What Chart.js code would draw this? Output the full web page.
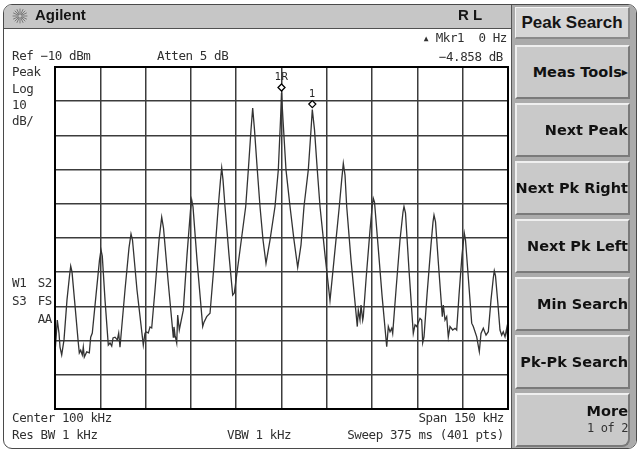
<!DOCTYPE html>
<html>
<head>
<meta charset="utf-8">
<script src="https://cdn.jsdelivr.net/npm/chart.js@4.4.1/dist/chart.umd.min.js"></script>
<style>
  body { margin: 0; background: #fff; }
  #screen { position: relative; width: 641px; height: 453px; overflow: hidden; background: #fff; }
  #frame { position: absolute; left: 3px; top: 4px; width: 634px; height: 445px; box-sizing: border-box;
           border: 1px solid #4a4a4a; border-radius: 9px; overflow: hidden; background: #fff; }
  #titlebar { position: absolute; left: 0; top: 0; width: 507px; height: 24px; box-sizing: border-box;
              background: #c6c6c6; border-bottom: 1px solid #505050; }
  #keys { position: absolute; left: 507px; top: 0; width: 126px; height: 445px; box-sizing: border-box;
          background: #ababab; border-left: 1px solid #555; }
  #chart { position: absolute; left: 0; top: 0; z-index: 1; }
  .t { position: absolute; z-index: 2; font: 12.5px 'DejaVu Sans Mono', monospace; letter-spacing: -0.4px;
       color: #303030; line-height: 14px; white-space: pre; }
  .key { position: absolute; left: 515px; width: 115px; height: 54px; box-sizing: border-box; z-index: 2;
         background: #c9c9c9; border-top: 2px solid #efefef; border-left: 2px solid #efefef;
         border-right: 2px solid #7a7a7a; border-bottom: 2px solid #7a7a7a; }
  .key span.lbl { position: absolute; right: 0; font: bold 14.5px 'DejaVu Sans', sans-serif; color: #111;
                  line-height: 16px; white-space: nowrap; }
  #menuTitle { position: absolute; left: 515px; top: 7px; width: 115px; height: 32px; box-sizing: border-box; z-index: 2;
               background: #d6d6d6; border-top: 1px solid #f4f4f4; border-left: 1px solid #f4f4f4;
               border-right: 2px solid #8a8a8a; border-bottom: 2px solid #8a8a8a;
               font: bold 17px 'Liberation Sans', sans-serif; color: #151515; text-align: center; line-height: 29px; }
  .brand { position: absolute; z-index: 2; font: bold 15px 'Liberation Sans', sans-serif; color: #151515; line-height: 16px; }
</style>
</head>
<body>
<div id="screen">
  <div id="frame">
    <div id="titlebar"></div>
    <div id="keys"></div>
  </div>

  <svg style="position:absolute;left:12px;top:8px;z-index:2" width="16" height="16" viewBox="0 0 16 16">
    <g stroke="#7a7a7a" stroke-width="1" stroke-linecap="round">
      <line x1="8" y1="1" x2="8" y2="15"/><line x1="1" y1="8" x2="15" y2="8"/>
      <line x1="3" y1="3" x2="13" y2="13"/><line x1="13" y1="3" x2="3" y2="13"/>
      <line x1="5" y1="1.5" x2="11" y2="14.5"/><line x1="11" y1="1.5" x2="5" y2="14.5"/>
      <line x1="1.5" y1="5" x2="14.5" y2="11"/><line x1="1.5" y1="11" x2="14.5" y2="5"/>
    </g>
    <circle cx="8" cy="8" r="1.6" fill="#c6c6c6"/>
  </svg>
  <div class="brand" style="left:35px;top:7px">Agilent</div>
  <div class="brand" style="left:458px;top:7px">R L</div>

  <canvas id="chart" width="641" height="453"></canvas>

  <div class="t" style="left:12px;top:49px">Ref −10 dBm</div>
  <div class="t" style="left:157px;top:49px">Atten 5 dB</div>
  <div class="t" id="mkrFreq" style="right:134px;top:31px"></div>
  <div class="t" id="mkrDelta" style="right:138px;top:50px"></div>

  <div class="t" style="left:12px;top:65px">Peak</div>
  <div class="t" style="left:12px;top:82px">Log</div>
  <div class="t" style="left:12px;top:98px">10</div>
  <div class="t" style="left:12px;top:114px">dB/</div>

  <div class="t" style="left:12px;top:276px">W1</div>
  <div class="t" style="right:589px;top:276px">S2</div>
  <div class="t" style="left:12px;top:294px">S3</div>
  <div class="t" style="right:589px;top:294px">FS</div>
  <div class="t" style="right:589px;top:312px">AA</div>

  <div class="t" style="left:12px;top:411px">Center 100 kHz</div>
  <div class="t" style="right:137px;top:411px">Span 150 kHz</div>
  <div class="t" style="left:12px;top:428px">Res BW 1 kHz</div>
  <div class="t" style="left:227px;top:428px">VBW 1 kHz</div>
  <div class="t" style="right:137px;top:428px">Sweep 375 ms (401 pts)</div>

  <div id="menuTitle">Peak Search</div>
  <div id="softkeys"></div>
</div>

<script>
// Trace: frequency (kHz) and level (dBm) pairs
const traceFreq = [
  25.00, 25.76, 26.32, 26.66, 27.22, 27.98, 28.97, 29.80, 30.20, 30.63, 31.46, 32.72, 33.05, 33.51, 34.04, 34.37,
  34.70, 35.50, 36.36, 36.82, 37.35, 38.58, 39.74, 40.23, 40.66, 41.56, 42.65, 43.21, 43.78, 44.21, 44.87, 45.63,
  46.09, 46.52, 47.02, 48.18, 49.50, 50.17, 50.66, 52.15, 54.24, 54.80, 55.36, 55.89, 56.46, 57.02, 58.11, 59.44,
  60.33, 60.93, 62.42, 64.17, 64.40, 64.74, 65.30, 65.63, 66.16, 67.48, 68.71, 69.87, 70.27, 70.70, 72.02, 73.91,
  74.34, 75.23, 76.33, 77.65, 78.97, 79.80, 80.20, 80.63, 81.29, 82.62, 83.84, 84.37, 86.26, 88.15, 89.01, 89.90,
  90.46, 91.06, 91.99, 92.88, 93.88, 94.87, 96.19, 97.85, 98.94, 99.67, 100.00, 100.50, 101.49, 102.82, 104.14, 105.36,
  106.46, 107.45, 108.87, 109.77, 110.20, 110.93, 111.85, 112.75, 114.41, 116.06, 117.39, 119.14, 119.93, 120.47, 121.03, 121.59,
  123.01, 125.10, 125.43, 125.99, 126.33, 126.89, 127.09, 127.98, 129.31, 130.07, 130.40, 130.80, 131.95, 133.28, 134.84, 135.37,
  135.93, 136.49, 136.82, 137.92, 139.24, 140.23, 140.56, 141.06, 142.22, 143.64, 144.21, 144.77, 145.86, 146.42, 146.76, 147.19,
  148.18, 149.50, 150.17, 150.50, 151.00, 151.99, 153.25, 153.58, 154.14, 154.70, 155.23, 155.80, 156.69, 157.45, 158.01, 158.78,
  159.77, 160.53, 160.93, 161.92, 162.98, 163.51, 164.64, 165.50, 166.06, 166.82, 167.72, 168.48, 169.37, 170.13, 170.46, 170.86,
  171.69, 172.35, 172.91, 173.44, 174.01, 174.57, 174.90, 175.00
];
const traceLevel = [
  -93.6, -84.0, -87.8, -91.9, -94.2, -89.8, -78.1, -71.1, -68.2, -69.9, -78.1, -90.7, -93.6, -92.8, -94.2, -91.9,
  -94.8, -93.3, -93.6, -89.0, -87.8, -76.7, -66.4, -63.5, -65.3, -78.1, -91.3, -90.7, -91.6, -89.2, -89.0, -89.8,
  -87.8, -91.9, -86.9, -75.2, -62.9, -58.8, -60.6, -75.2, -91.3, -87.8, -87.5, -87.8, -86.0, -86.3, -75.2, -60.6,
  -53.9, -57.1, -72.3, -89.0, -86.0, -88.4, -90.7, -82.5, -86.9, -81.1, -65.0, -51.8, -48.9, -50.9, -66.4, -85.9,
  -84.6, -83.0, -82.0, -67.9, -51.8, -43.0, -39.5, -43.0, -50.8, -65.0, -76.7, -76.1, -63.5, -50.8, -40.1, -28.4,
  -22.0, -28.4, -40.1, -50.8, -60.6, -67.4, -60.6, -50.8, -40.1, -25.5, -17.6, -25.5, -40.1, -50.8, -60.6, -68.6,
  -62.0, -50.8, -40.1, -28.4, -22.46, -28.4, -40.1, -50.8, -65.0, -78.3, -66.4, -50.8, -43.0, -38.2, -41.6, -50.8,
  -66.4, -85.9, -81.1, -84.0, -79.6, -84.0, -83.0, -72.3, -57.7, -50.4, -48.4, -49.5, -62.0, -76.7, -91.8, -85.9,
  -87.4, -86.4, -87.9, -75.2, -60.6, -52.4, -50.8, -52.7, -69.4, -87.9, -85.4, -85.9, -83.5, -84.0, -90.6, -88.9,
  -76.7, -62.0, -55.3, -53.3, -55.3, -67.9, -83.0, -79.6, -84.0, -83.0, -88.9, -85.9, -86.9, -86.4, -86.9, -76.7,
  -65.0, -58.6, -60.6, -72.3, -84.9, -85.9, -88.9, -93.2, -87.9, -86.4, -88.4, -87.4, -78.1, -71.7, -69.6, -71.1,
  -79.6, -86.9, -88.4, -87.4, -88.9, -86.4, -89.3, -85.9
];

// Display settings
const refLevel = -10;       // dBm, top graticule line
const dbPerDiv = 10;
const centerKHz = 100;
const spanKHz = 150;

// Delta marker pair: reference at the main peak, marker 1 on the next one up
const markerLabels = ['1R', '1'];
const markerFreq = [100.0, 110.2];
const refMarkerLevel = -17.6;
const deltaMarkerDb = -4.858;
const markerLevel = [refMarkerLevel, refMarkerLevel + deltaMarkerDb];

const softkeys = ['Meas Tools', 'Next Peak', 'Next Pk Right', 'Next Pk Left', 'Min Search', 'Pk-Pk Search', 'More'];

// marker readout
document.getElementById('mkrFreq').innerHTML =
  '<span style="font-size:8px;letter-spacing:0;position:relative;top:-1px">&#9650;</span> Mkr1  0 Hz';
document.getElementById('mkrDelta').textContent = '\u2212' + Math.abs(deltaMarkerDb).toFixed(3) + ' dB';

// softkey column
const keyBox = document.getElementById('softkeys');
softkeys.forEach(function(name, i) {
  const key = document.createElement('div');
  key.className = 'key';
  key.style.top = (45 + i * 58) + 'px';
  if (name === 'More') {
    key.style.borderBottomRightRadius = '8px';
    key.innerHTML = '<span class="lbl" style="top:8px">More</span>' +
      '<span class="lbl" style="top:26px;font:12px \'DejaVu Sans Mono\',monospace;letter-spacing:-0.4px;color:#333">1 of 2</span>';
  } else {
    let text = name;
    if (name === 'Meas Tools') text += '<span style="font-size:8px;position:relative;top:-2px">&#9654;</span>';
    key.innerHTML = '<span class="lbl" style="top:17px">' + text + '</span>';
  }
  keyBox.appendChild(key);
});

const tracePoints = traceFreq.map(function(f, i) { return { x: f, y: traceLevel[i] }; });

// heavy outline round the graticule
const graticuleFrame = {
  id: 'graticuleFrame',
  afterDraw: function(chart) {
    const a = chart.chartArea;
    const ctx = chart.ctx;
    ctx.save();
    ctx.strokeStyle = '#000';
    ctx.lineWidth = 2;
    ctx.strokeRect(a.left, a.top, a.right - a.left, a.bottom - a.top);
    ctx.restore();
  }
};

// diamond markers sitting just above the trace, with their labels
const markerPlugin = {
  id: 'markers',
  afterDatasetsDraw: function(chart) {
    const ctx = chart.ctx;
    const xs = chart.scales.x, ys = chart.scales.y;
    ctx.save();
    markerFreq.forEach(function(f, i) {
      const px = xs.getPixelForValue(f);
      const py = ys.getPixelForValue(markerLevel[i]) - 5.5;
      ctx.beginPath();
      ctx.moveTo(px, py - 3.5);
      ctx.lineTo(px + 3.5, py);
      ctx.lineTo(px, py + 3.5);
      ctx.lineTo(px - 3.5, py);
      ctx.closePath();
      ctx.fillStyle = '#fff';
      ctx.fill();
      ctx.strokeStyle = '#000';
      ctx.lineWidth = 1.3;
      ctx.stroke();
      ctx.fillStyle = '#222';
      ctx.font = '10px "DejaVu Sans"';
      ctx.textAlign = 'center';
      ctx.textBaseline = 'alphabetic';
      ctx.fillText(markerLabels[i], px, py - 7);
    });
    ctx.restore();
  }
};

const gridStyle = { color: '#3c3c3c', lineWidth: 1.5, drawTicks: false };

new Chart(document.getElementById('chart').getContext('2d'), {
  type: 'line',
  data: {
    datasets: [{
      data: tracePoints,
      borderColor: '#333',
      borderWidth: 1.3,
      pointRadius: 0,
      tension: 0,
      fill: false
    }]
  },
  options: {
    responsive: false,
    animation: false,
    events: [],
    layout: { padding: { left: 55, top: 67, right: 133, bottom: 44 } },
    plugins: { legend: { display: false }, tooltip: { enabled: false } },
    scales: {
      x: {
        type: 'linear',
        min: centerKHz - spanKHz / 2,
        max: centerKHz + spanKHz / 2,
        ticks: { display: false, stepSize: spanKHz / 10 },
        grid: gridStyle,
        border: { display: false }
      },
      y: {
        min: refLevel - 10 * dbPerDiv,
        max: refLevel,
        ticks: { display: false, stepSize: dbPerDiv },
        grid: gridStyle,
        border: { display: false }
      }
    }
  },
  plugins: [graticuleFrame, markerPlugin]
});
</script>
</body>
</html>
